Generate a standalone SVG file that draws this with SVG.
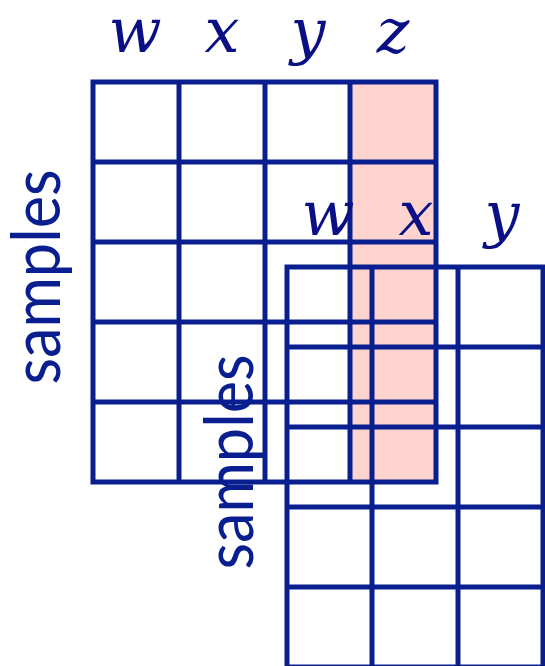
<svg xmlns="http://www.w3.org/2000/svg" width="545" height="666" viewBox="0 0 545 666">
<style>
.grid{fill:none;stroke:#0a1f8f;stroke-width:5;stroke-linecap:square;stroke-linejoin:miter}
.math{font-family:"DejaVu Serif","Liberation Serif",serif;font-style:italic;font-size:62px;fill:#0a0f85;text-anchor:middle}
.samp{font-family:Lato,"Open Sans","Liberation Sans",sans-serif;font-size:68px;fill:#0a1f8f;text-anchor:middle}
</style>
<rect width="545" height="666" fill="#ffffff"/>
<g id="grid1">
<rect x="350" y="82" width="86" height="400" fill="#ffd4cf"/>
<path class="grid" d="M93,82H436V482H93Z M179,82V482 M265,82V482 M350,82V482 M93,162H436 M93,242H436 M93,322H436 M93,402H436"/>
</g>
<g id="grid2">
<path class="grid" d="M287,267H543V667H287Z M372,267V667 M458,267V667 M287,347H543 M287,427H543 M287,507H543 M287,587H543"/>
</g>
<g id="labels1">
<text class="math" x="135" y="52">w</text>
<text class="math" x="222" y="52">x</text>
<text class="math" x="308" y="52">y</text>
<text class="math" x="393" y="52">z</text>
<text class="samp" transform="translate(60,277) rotate(-90)" textLength="215" lengthAdjust="spacingAndGlyphs">samples</text>
</g>
<g id="labels2">
<text class="math" x="328" y="235">w</text>
<text class="math" x="416" y="235">x</text>
<text class="math" x="502" y="235">y</text>
<text class="samp" transform="translate(253,462) rotate(-90)" textLength="215" lengthAdjust="spacingAndGlyphs">samples</text>
</g>
</svg>
